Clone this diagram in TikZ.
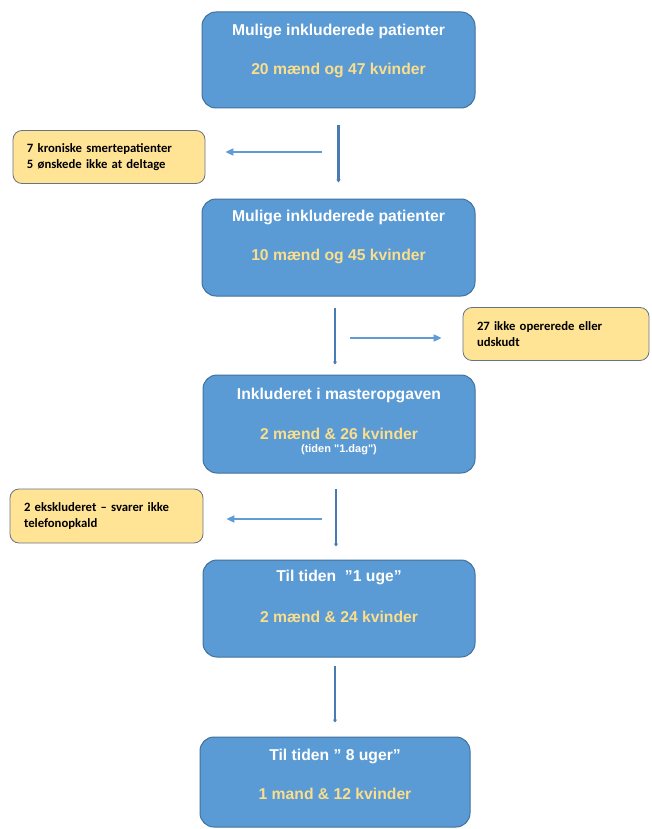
\documentclass[tikz,border=0pt]{standalone}
\usepackage{fontspec}
\setmainfont{Liberation Sans}
\newfontfamily\calibri{Carlito}
\newfontfamily\rawsans[Ligatures=TeXOff]{Liberation Sans}
\usetikzlibrary{arrows.meta}
\definecolor{boxblue}{RGB}{91,155,213}
\definecolor{boxedge}{RGB}{65,113,156}
\definecolor{numyellow}{RGB}{250,222,140}
\definecolor{notefill}{RGB}{255,228,150}
\definecolor{noteedge}{RGB}{105,115,135}
\definecolor{vlinecol}{RGB}{72,122,180}
\definecolor{hlinecol}{RGB}{95,155,212}
\tikzset{
  bluebox/.style={draw=boxedge, line width=1pt, fill=boxblue, rounded corners=14pt, inner sep=0pt},
  titletxt/.style={text=white, font=\fontsize{15.7}{18}\selectfont\bfseries, inner sep=0pt},
  numtxt/.style={text=numyellow, font=\fontsize{15.7}{18}\selectfont\bfseries, inner sep=0pt},
  smalltxt/.style={text=white, font=\rawsans\fontsize{11}{13}\selectfont\bfseries, inner sep=0pt},
  notebox/.style={draw=noteedge, line width=0.8pt, fill=notefill, rounded corners=9pt, align=left,
    font=\calibri\fontsize{12.7}{16.5}\selectfont\bfseries, inner xsep=14pt, inner ysep=0pt},
  vline/.style={draw=vlinecol, line width=2.8pt, -{Triangle[length=3pt,width=4pt]}},
  hline/.style={draw=hlinecol, line width=1.8pt, -{Triangle[length=8pt,width=7pt]}}
}
\begin{document}
\begin{tikzpicture}[x=1pt,y=-1pt]
\useasboundingbox[fill=white] (0,0) rectangle (651,829);

% main boxes
\node[bluebox, minimum width=273pt, minimum height=96pt] (b1) at (338.5,60) {};
\node[bluebox, minimum width=273pt, minimum height=97pt] (b2) at (338.5,247.5) {};
\node[bluebox, minimum width=272pt, minimum height=98pt] (b3) at (339,424) {};
\node[bluebox, minimum width=272pt, minimum height=97pt] (b4) at (339,608.5) {};
\node[bluebox, minimum width=270pt, minimum height=90pt] (b5) at (335,782) {};

% texts in main boxes
\node[titletxt] (t1) at ([yshift=-20pt]b1.north) {Mulige inkluderede patienter};
\node[numtxt]   (n1) at ([yshift=-59pt]b1.north) {20 mænd og 47 kvinder};
\node[titletxt] (t2) at ([yshift=-19pt]b2.north) {Mulige inkluderede patienter};
\node[numtxt]   (n2) at ([yshift=-58pt]b2.north) {10 mænd og 45 kvinder};
\node[titletxt] (t3) at ([yshift=-21pt]b3.north) {Inkluderet i masteropgaven};
\node[numtxt]   (n3) at ([yshift=-59pt]b3.north) {2 mænd \& 26 kvinder};
\node[smalltxt] (s3) at ([yshift=-75pt]b3.north) {(tiden "1.dag")};
\node[titletxt] (t4) at ([yshift=-18pt]b4.north) {Til tiden \ ”1 uge”};
\node[numtxt]   (n4) at ([yshift=-57pt]b4.north) {2 mænd \& 24 kvinder};
\node[titletxt] (t5) at ([yshift=-20pt]b5.north) {Til tiden ” 8 uger”};
\node[numtxt]   (n5) at ([yshift=-57pt]b5.north) {1 mand \& 12 kvinder};

% note boxes
\node[notebox, text width=164pt, minimum height=53pt] (y1) at (109,157) {7 kroniske smertepatienter\\5 ønskede ikke at deltage};
\node[notebox, text width=158pt, minimum height=53pt] (y2) at (556,334) {27 ikke opererede eller\\udskudt};
\node[notebox, text width=165pt, minimum height=54pt] (y3) at (106.5,516) {2 ekskluderet – svarer ikke\\telefonopkald};

% vertical connectors
\draw[vline, shorten <=17pt, shorten >=16pt] (b1.south) -- (b2.north);
\draw[vline, shorten <=11pt, shorten >=10pt] ([xshift=-3.5pt]b2.south) -- ([xshift=-4pt]b3.north);
\draw[vline, shorten <=15pt, shorten >=13pt] ([xshift=-3pt]b3.south) -- ([xshift=-3pt]b4.north);
\draw[vline, shorten <=8pt, shorten >=14pt] (b4.south -| b5.north) -- (b5.north);

% side arrows
\coordinate (h1) at (322,152);
\coordinate (h2) at (350,338);
\coordinate (h3) at (322,519);
\draw[hline, shorten >=20pt] (h1) -- (h1 -| y1.east);
\draw[hline, shorten >=21pt] (h2) -- (h2 -| y2.west);
\draw[hline, shorten >=23pt] (h3) -- (h3 -| y3.east);
\end{tikzpicture}
\end{document}
